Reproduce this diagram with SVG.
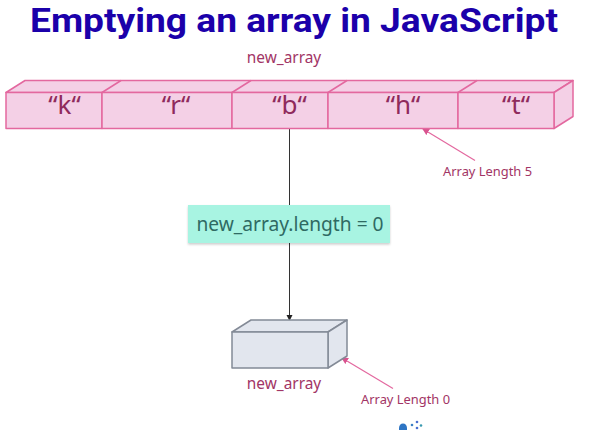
<svg xmlns="http://www.w3.org/2000/svg" width="590" height="430" viewBox="0 0 590 430">
<defs>
<marker id="ap" markerWidth="8" markerHeight="8" refX="6" refY="3.5" orient="auto" markerUnits="userSpaceOnUse"><path d="M0,0L7,3.5L0,7Z" fill="#d9538f"/></marker>
<marker id="ak" markerWidth="8" markerHeight="8" refX="6" refY="3" orient="auto" markerUnits="userSpaceOnUse"><path d="M0,0L6,3L0,6Z" fill="#222"/></marker>
<filter id="sh" x="-5%" y="-10%" width="110%" height="125%"><feDropShadow dx="0" dy="1.5" stdDeviation="1" flood-color="#000" flood-opacity="0.2"/></filter>
</defs>
<style>
text{font-family:"Noto Sans","Open Sans",sans-serif}
.p{fill:#f4d0e6;stroke:#e3689f;stroke-width:1.5;stroke-linejoin:round}
.v{font-size:26px;fill:#8f2a5c;text-anchor:middle}
.l{font-size:12.900px;fill:#a23565}
.g{fill:#e2e6ee;stroke:#838a96;stroke-width:1.5;stroke-linejoin:round}
</style>
<rect width="590" height="430" fill="#fff"/>
<text x="294" y="32" text-anchor="middle" textLength="528" lengthAdjust="spacingAndGlyphs" style="font-family:Roboto,sans-serif;font-size:34px;font-weight:700;fill:#1b00aa">Emptying an array in JavaScript</text>
<text x="284" y="63" text-anchor="middle" class="l" style="font-size:15.400px">new_array</text>
<g id="connectors">
<path d="M289.500 128V321" stroke="#333" stroke-width="1" fill="none" marker-end="url(#ak)"/>
<path d="M475 160.500L423 129" stroke="#e3689f" stroke-width="1.200" fill="none" marker-end="url(#ap)"/>
<path d="M393 388.500L342 358" stroke="#e3689f" stroke-width="1.200" fill="none" marker-end="url(#ap)"/>
</g>
<g id="array5">
<path class="p" d="M6 92.500L25 80.500H573L554 92.500Z"/>
<path class="p" d="M554 92.500L573 80.500V116.500L554 128.500Z"/>
<rect class="p" x="6" y="92.500" width="96" height="36"/>
<rect class="p" x="102" y="92.500" width="130" height="36"/>
<rect class="p" x="232" y="92.500" width="96" height="36"/>
<rect class="p" x="328" y="92.500" width="130" height="36"/>
<rect class="p" x="458" y="92.500" width="96" height="36"/>
<path class="p" d="M102 92.500L121 80.500M232 92.500L251 80.500M328 92.500L347 80.500M458 92.500L477 80.500" fill="none"/>
<text class="v" x="64.500" y="114">“k“</text>
<text class="v" x="176" y="114">“r“</text>
<text class="v" x="289.500" y="114">“b“</text>
<text class="v" x="403" y="114">“h“</text>
<text class="v" x="516" y="114">“t“</text>
</g>
<g id="assign">
<rect x="188" y="205" width="202" height="38" fill="#a8f4e2" filter="url(#sh)"/>
<text x="290" y="231" text-anchor="middle" style="font-size:19.200px;fill:#2f6a62">new_array.length = 0</text>
</g>
<g id="array0">
<path class="g" d="M232 332L251 320H347L328 332Z"/>
<path class="g" d="M328 332L347 320V356L328 368Z"/>
<rect class="g" x="232" y="332" width="96" height="36"/>
<text x="284" y="389" text-anchor="middle" class="l" style="font-size:15.400px">new_array</text>
</g>
<text class="l" x="443" y="176">Array Length 5</text>
<text class="l" x="361" y="404">Array Length 0</text>
<g id="logo">
<path d="M399 430V428A4 4.500 0 0 1 407 428V430Z" fill="#2e75c4"/>
<circle cx="412" cy="425" r="1.300" fill="#3a7fc4"/>
<circle cx="417" cy="422" r="1.300" fill="#4a6fd0"/>
<circle cx="417" cy="428" r="1.300" fill="#4a6fd0"/>
<circle cx="421" cy="425.500" r="1.300" fill="#3a9ab0"/>
</g>
</svg>
